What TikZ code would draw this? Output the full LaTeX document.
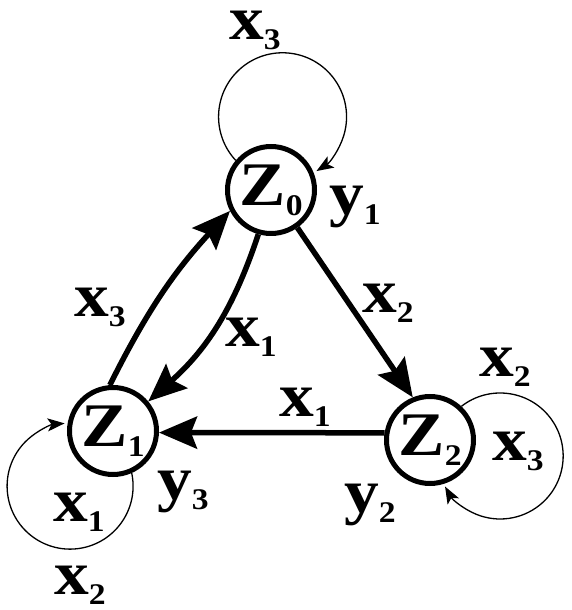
\documentclass[tikz,border=0pt]{standalone}
\usepackage{fontspec}
\setmainfont{Liberation Serif}
\usetikzlibrary{arrows.meta}
\newcommand\sx[2]{\scalebox{1.12}[1]{#1\raisebox{-0.16em}{\fontsize{30}{30}\selectfont #2}}}

\begin{document}
\begin{tikzpicture}[x=1pt,y=1pt,font=\fontsize{62}{64}\selectfont\bfseries,
  state/.style={draw,circle,line width=5pt,minimum size=87pt,inner sep=0pt},
  lab/.style={inner sep=0pt},
  flow/.style={line width=5.5pt,-{Stealth[length=38pt,width=32pt,inset=6pt]}},
  self/.style={line width=1.3pt,-{Stealth[length=17pt,width=13pt,inset=4pt]}}]
\useasboundingbox (0,0) rectangle (572,610);
\foreach \i/\x/\y in {0/271/420,1/113/179,2/430/170}{
  \node[state] (z\i) at (\x,\y) {\sx{Z}{\i}};
}
% transitions between states
\draw[flow] (z1.94) to[bend left=8] (z0.207);
\draw[flow] (z0.254) to[bend left=15] (z1.40);
\draw[flow] (z0.305) -- (z2.112);
\draw[flow] (z2.171) -- (z1.358);
% self loops
\draw[self] (z0.140) arc[start angle=223,end angle=-58,radius=64];
\draw[self] (z1.294) arc[start angle=12,end angle=-265,radius=63];
\draw[self] (z2.47) arc[start angle=128,end angle=-151,radius=63];
% inputs and outputs
\node[lab] (x3top) at (255,580) {\sx{x}{3}};
\node[lab] (y1) at (355,403) {\sx{y}{1}};
\node[lab] (x3l) at (100,303) {\sx{x}{3}};
\node[lab] (x1m) at (251,273) {\sx{x}{1}};
\node[lab] (x2r) at (388,307) {\sx{x}{2}};
\node[lab] (x1h) at (305,203) {\sx{x}{1}};
\node[lab] (y3) at (183,118) {\sx{y}{3}};
\node[lab] (x1in) at (79,98) {\sx{x}{1}};
\node[lab] (x2bot) at (80,25) {\sx{x}{2}};
\node[lab] (x2top) at (505,243) {\sx{x}{2}};
\node[lab] (x3in) at (518,159) {\sx{x}{3}};
\node[lab] (y2) at (370,105) {\sx{y}{2}};
\end{tikzpicture}
\end{document}
